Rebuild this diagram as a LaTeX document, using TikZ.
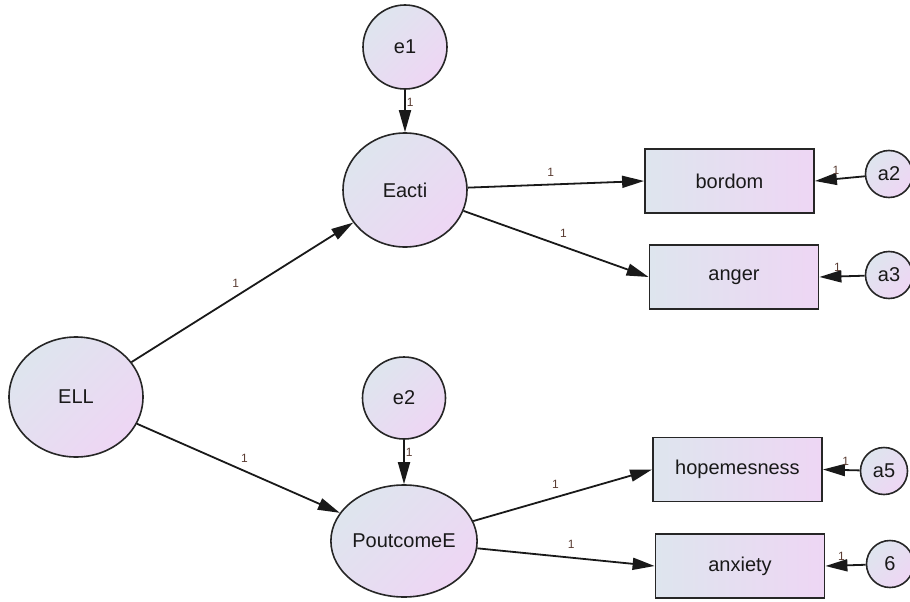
\documentclass[tikz,border=0pt]{standalone}
\usepackage{fontspec}
\setmainfont{Liberation Sans}
\usetikzlibrary{arrows.meta}
\usetikzlibrary{shapes.geometric}
\definecolor{shadeleft}{RGB}{222,229,238}
\definecolor{shaderight}{RGB}{238,214,244}
\definecolor{weightcol}{RGB}{90,60,50}

\begin{document}
\begin{tikzpicture}[x=1pt, y=-1pt]
            \tikzstyle{latent} = [ellipse, draw=black!85, line width=1.6pt, inner sep=0pt, left color=shadeleft, right color=shaderight, shading angle=45, text=black!90, font=\fontsize{20}{23}\selectfont]
            \tikzstyle{observed} = [rectangle, draw=black!85, line width=1.8pt, minimum width=169pt, minimum height=64pt, left color=shadeleft, right color=shaderight, text=black!90, font=\fontsize{20}{23}\selectfont]
            \tikzstyle{unique} = [circle, draw=black!85, line width=1.6pt, inner sep=0pt, minimum size=47pt, left color=shadeleft, right color=shaderight, shading angle=45, text=black!90, font=\fontsize{20}{23}\selectfont]
            \tikzstyle{regpath} = [line width=1.8pt, black!90, -{Triangle[length=22pt, width=12pt]}]
            \tikzstyle{weight} = [text=weightcol, inner sep=1pt, font=\fontsize{12}{13}\selectfont]
            \useasboundingbox (0, 0) rectangle (910, 602);
            % latent variables
            \node[latent, minimum width=134pt, minimum height=120pt] (ELL) at (76, 397) {ELL};
            \node[latent, minimum width=124pt, minimum height=114pt] (Eacti) at (405, 190) {Eacti};
            \node[latent, minimum width=142pt, minimum height=112pt] (PoutcomeE) at (404, 541) {PoutcomeE};
            \node[latent, minimum width=84pt, minimum height=84pt] (e1) at (405, 47) {e1};
            \node[latent, minimum width=83pt, minimum height=82pt] (e2) at (404, 398) {e2};
            % observed variables
            \node[observed] (bordom) at (729.5, 181) {bordom};
            \node[observed] (anger) at (734, 277) {anger};
            \node[observed] (hopemesness) at (737.5, 469.5) {hopemesness};
            \node[observed] (anxiety) at (740, 566) {anxiety};
            \node[unique] (a2) at (889, 174) {a2};
            \node[unique] (a3) at (889, 275) {a3};
            \node[unique] (a5) at (884, 471) {a5};
            \node[unique] (u6) at (890, 564) {6};
            % paths
            \draw[regpath] (e1) -- (Eacti) node[weight, pos=0.3, right] {1};
            \draw[regpath] (e2) -- (PoutcomeE) node[weight, pos=0.28, right] {1};
            \draw[regpath] (ELL) -- (Eacti) node[weight, pos=0.47, above=7pt] {1};
            \draw[regpath] (ELL) -- (PoutcomeE) node[weight, pos=0.53, above=7pt] {1};
            \draw[regpath] (Eacti) -- (bordom.west) node[weight, pos=0.47, above=6pt] {1};
            \draw[regpath] (Eacti) -- (anger.west) node[weight, pos=0.54, above=7pt] {1};
            \draw[regpath] (PoutcomeE) -- (hopemesness.west) node[weight, pos=0.46, above=7pt] {1};
            \draw[regpath] (PoutcomeE) -- (anxiety.west) node[weight, pos=0.53, above=7pt] {1};
            \draw[regpath] (a2) -- (bordom.east) node[weight, pos=0.58, above=3pt] {1};
            \draw[regpath] (a3) -- (anger.east) node[weight, pos=0.6, above=3pt] {1};
            \draw[regpath] (a5) -- (hopemesness.east) node[weight, pos=0.38, above=3pt] {1};
            \draw[regpath] (u6) -- (anxiety.east) node[weight, pos=0.6, above=3pt] {1};
\end{tikzpicture}
\end{document}
